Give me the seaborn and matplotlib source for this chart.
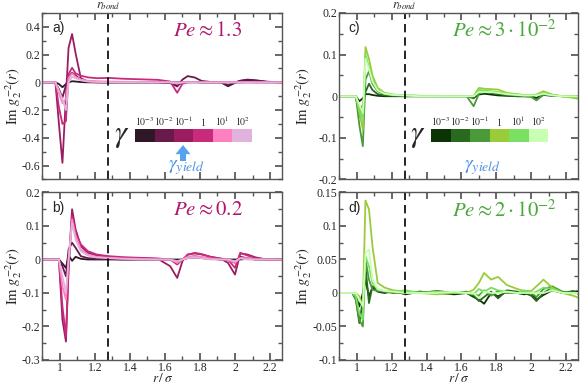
import numpy as np
import seaborn as sns
import matplotlib
matplotlib.use("Agg")
import matplotlib.pyplot as plt
from matplotlib.colors import ListedColormap
from matplotlib.ticker import MultipleLocator, AutoMinorLocator, FuncFormatter

# r / sigma sampling points (shared by all panels)
r = [0.90, 0.975, 0.995, 1.015, 1.035, 1.05, 1.07, 1.09, 1.12, 1.16, 1.21, 1.28, 1.36, 1.46, 1.56,
     1.63, 1.67, 1.70, 1.73, 1.77, 1.81, 1.86, 1.92, 1.96, 2.00, 2.03, 2.07, 2.12, 2.18, 2.24, 2.28]

gamma_labels = ["$10^{-3}$", "$10^{-2}$", "$10^{-1}$", "$1$", "$10^{1}$", "$10^{2}$"]
pink = ["#2e1828", "#6a1a4a", "#9c1c60", "#c82a7c", "#ff80c0", "#e0b2dc"]
green = ["#0c3306", "#2a6a1e", "#4a9a3a", "#9acc3a", "#7ae062", "#c8ffb2"]

# a) Pe ~ 1.3
a_g1 = [0, 0, -0.012, -0.035, -0.012, 0.0, 0.008, 0.006, 0.002, 0.0, 0.0, -0.002, 0.0, 0.0, 0.0,
        -0.005, -0.022, 0.0, 0.004, 0.002, 0.0, 0.0, 0.0, -0.028, -0.004, 0.01, 0.016, 0.012, 0.004, 0.0, 0.0]
a_g2 = [0, 0, -0.05, -0.11, -0.02, 0.04, 0.07, 0.05, 0.02, 0.008, 0.004, 0.002, 0.0, 0.0, 0.0,
        -0.002, -0.03, 0.02, 0.045, 0.035, 0.01, 0.003, 0.0, -0.02, 0.0, 0.012, 0.02, 0.015, 0.005, 0.002, 0.0]
a_g3 = [0, 0, -0.3, -0.58, -0.1, 0.25, 0.348, 0.21, 0.03, 0.005, 0.0, 0.0, 0.0, 0.0, 0.0,
        0.0, 0.0, 0.0, 0.0, 0.0, 0.0, 0.0, 0.0, 0.0, 0.0, 0.0, 0.0, 0.0, 0.0, 0.0, 0.0]
a_g4 = [0, 0, -0.18, -0.30, -0.28, 0.06, 0.105, 0.065, 0.048, 0.036, 0.03, 0.032, 0.026, 0.022, 0.018,
        0.006, -0.075, -0.01, 0.0, 0.002, 0.0, 0.0, 0.0, 0.0, 0.0, 0.0, 0.002, 0.0, 0.0, 0.0, 0.0]
a_g5 = [0, 0, -0.08, -0.15, -0.12, 0.03, 0.065, 0.04, 0.02, 0.012, 0.008, 0.006, 0.004, 0.003, 0.002,
        0.0, -0.01, 0.0, 0.002, 0.0, 0.0, 0.0, 0.0, 0.0, 0.0, 0.0, 0.0, 0.0, 0.0, 0.0, 0.0]
a_g6 = [0, 0, -0.06, -0.12, -0.2, 0.0, 0.04, 0.03, 0.015, 0.006, 0.003, 0.0, 0.0, 0.0, 0.0,
        0.0, -0.004, 0.0, 0.0, 0.0, 0.0, 0.0, 0.0, 0.0, 0.0, 0.0, 0.0, 0.0, 0.0, 0.0, 0.0]

# b) Pe ~ 0.2
b_g1 = [0, 0, 0, -0.012, -0.025, 0.012, -0.004, 0.008, 0.002, 0, 0, 0, 0, 0, 0,
        0, 0, 0, 0.004, 0.006, 0.004, 0.002, 0, 0, 0, 0, 0.002, 0, 0, 0, 0]
b_g2 = [0, 0, 0, -0.02, -0.05, 0.03, 0.05, 0.035, 0.01, 0.004, 0.002, 0.002, 0, 0, 0,
        0, -0.005, 0, 0.006, 0.01, 0.006, 0.003, 0, 0, -0.01, 0.008, 0.004, 0, 0, 0, 0]
b_g3 = [0, 0, 0, -0.18, -0.245, -0.02, 0.15, 0.09, 0.04, 0.02, 0.012, 0.008, 0.005, 0.004, 0.002,
        -0.02, -0.055, -0.005, 0.015, 0.018, 0.015, 0.008, 0.002, -0.01, -0.045, 0.018, 0.015, 0.006, 0.0, 0, 0]
b_g4 = [0, 0, 0, -0.14, -0.23, -0.03, 0.13, 0.08, 0.045, 0.025, 0.015, 0.01, 0.007, 0.005, 0.003,
        0.0, -0.015, 0.0, 0.014, 0.02, 0.016, 0.008, 0.003, 0.0, -0.025, 0.02, 0.012, 0.004, 0, 0, 0]
b_g5 = [0, 0, 0, -0.08, -0.12, 0.0, 0.12, 0.07, 0.03, 0.015, 0.008, 0.005, 0.003, 0.002, 0,
        0, -0.01, 0, 0.008, 0.01, 0.008, 0.003, 0, 0, -0.01, 0.005, 0.004, 0, 0, 0, 0]
b_g6 = [0, 0, 0, -0.05, -0.1, 0.0, 0.11, 0.06, 0.025, 0.012, 0.006, 0.004, 0.002, 0, 0,
        0, -0.005, 0, 0.004, 0.006, 0.004, 0, 0, 0, -0.005, 0.003, 0, 0, 0, 0, 0]

# c) Pe ~ 3e-2
c_g1 = [0, 0, 0, -0.012, -0.005, 0.005, 0.005, 0.003, 0.001, 0, 0, 0, 0, 0, 0,
        0, -0.003, 0.004, 0.006, 0.004, 0.002, 0.001, 0, 0, 0, -0.004, 0.003, 0.001, 0, 0, 0]
c_g2 = [0, 0, 0, -0.05, -0.02, 0.01, 0.03, 0.015, 0.005, 0.002, 0.001, 0, 0, 0, 0,
        0, -0.005, 0.008, 0.01, 0.008, 0.005, 0.002, 0, 0, 0, -0.008, 0.004, 0.002, 0, 0, 0]
c_g3 = [0, 0, 0, -0.07, -0.12, 0.04, 0.06, 0.03, 0.012, 0.005, 0.002, 0.001, 0, 0, 0,
        0, -0.024, 0.006, 0.01, 0.01, 0.008, 0.004, 0.002, 0, -0.002, -0.01, 0.004, 0.002, 0, 0, 0]
c_g4 = [0, 0, 0, -0.04, -0.08, 0.118, 0.09, 0.05, 0.02, 0.008, 0.004, 0.002, 0.001, 0.001, 0,
        0, 0.0, 0.02, 0.018, 0.017, 0.016, 0.008, 0.005, 0.003, 0.003, 0.004, 0.012, 0.004, 0.0, -0.004, -0.007]
c_g5 = [0, 0, 0, -0.03, -0.06, 0.1, 0.07, 0.04, 0.016, 0.006, 0.003, 0.002, 0.001, 0, 0,
        0, 0, 0.015, 0.014, 0.012, 0.01, 0.006, 0.004, 0.002, 0.002, 0.003, 0.008, 0.003, 0, 0, -0.002]
c_g6 = [0, 0, 0, -0.02, -0.04, 0.09, 0.065, 0.035, 0.014, 0.006, 0.003, 0.002, 0, 0, 0,
        0, 0, 0.01, 0.01, 0.01, 0.008, 0.005, 0.003, 0.002, 0.002, 0.002, 0.006, 0.002, 0, 0, 0]

# d) Pe ~ 2e-2
d_g1 = [0, 0, -0.005, -0.02, 0.0, 0.02, -0.005, 0.008, 0.002, 0.0, 0.003, -0.002, 0.002, 0.0, -0.002,
        0.0, -0.006, -0.01, -0.016, 0.0, -0.005, 0.002, 0.0, -0.002, 0.0, -0.01, -0.003, 0.004, 0.0, 0.002, 0.003]
d_g2 = [0, 0, -0.01, -0.045, -0.01, 0.04, -0.015, 0.01, 0.004, 0.002, 0.0, 0.002, 0.0, 0.003, 0.0,
        0.0, -0.004, -0.012, -0.006, 0.002, -0.008, 0.004, 0.002, 0.0, -0.004, -0.012, 0.0, 0.008, 0.0, 0.003, -0.003]
d_g3 = [0, 0, -0.01, -0.04, -0.05, 0.05, 0.02, 0.005, 0.003, 0.002, 0.001, 0.0, 0.002, 0.0, 0.0,
        0.002, -0.002, -0.004, 0.004, -0.004, 0.003, 0.0, 0.0, 0.002, 0.0, -0.006, 0.006, 0.01, 0.002, 0, 0]
d_g4 = [0, 0, 0, -0.005, -0.02, 0.138, 0.125, 0.07, 0.015, 0.008, 0.004, 0.002, 0.0, -0.002, 0.0,
        0.0, 0.005, 0.015, 0.03, 0.02, 0.024, 0.012, 0.006, 0.003, 0.003, 0.01, 0.02, 0.008, 0.0, -0.004, -0.008]
d_g5 = [0, 0, -0.005, -0.03, -0.04, 0.055, 0.04, 0.015, 0.005, 0.003, 0.002, 0.004, 0.0, 0.002, 0.0,
        0.0, -0.002, 0.006, 0.002, 0.008, 0.004, 0.002, 0.0, 0.004, 0.0, 0.002, 0.008, 0.006, 0, 0, 0]
d_g6 = [0, 0, 0, -0.01, -0.02, 0.06, 0.065, 0.02, 0.006, 0.003, 0.002, 0.0, 0.0, 0.0, 0.002,
        0.0, 0.0, -0.008, 0.002, 0.0, 0.0, 0.002, 0.0, 0.0, 0.0, 0.0, 0.0, 0.004, 0.0, 0, 0]

r_bond = 1.275

sns.set_theme(style="ticks")
plt.rcParams["font.family"] = ["Liberation Serif", "DejaVu Serif"]
plt.rcParams["mathtext.fontset"] = "stix"
plt.rcParams["axes.unicode_minus"] = False

fig = plt.figure(figsize=(5.81, 3.84), dpi=100)
ax_a = fig.add_axes([0.0728, 0.5326, 0.4131, 0.4336])
ax_b = fig.add_axes([0.0728, 0.0625, 0.4131, 0.4362])
ax_c = fig.add_axes([0.584, 0.5326, 0.4114, 0.4336])
ax_d = fig.add_axes([0.584, 0.0625, 0.4114, 0.4362])

panels = [
    (ax_a, [a_g1, a_g2, a_g3, a_g4, a_g5, a_g6], pink, (-0.7, 0.5), 0.2, "a)", r"$Pe \approx 1.3$", "#b0186e"),
    (ax_b, [b_g1, b_g2, b_g3, b_g4, b_g5, b_g6], pink, (-0.3, 0.2), 0.1, "b)", r"$Pe \approx 0.2$", "#b0186e"),
    (ax_c, [c_g1, c_g2, c_g3, c_g4, c_g5, c_g6], green, (-0.2, 0.2), 0.1, "c)", r"$Pe \approx 3\cdot10^{-2}$", "#4aa83c"),
    (ax_d, [d_g1, d_g2, d_g3, d_g4, d_g5, d_g6], green, (-0.1, 0.15), 0.05, "d)", r"$Pe \approx 2\cdot10^{-2}$", "#4aa83c"),
]

fmt = FuncFormatter(lambda v, p: "%g" % round(v, 4))
for ax, series, cols, ylim, ystep, tag, pe, pecol in panels:
    for vals, c in zip(series, cols):
        sns.lineplot(x=r, y=vals, color=c, lw=1.3, ax=ax)
    ax.axvline(r_bond, color="black", lw=1.2, ls=(0, (5, 3)))
    ax.set_xlim(0.9, 2.27)
    ax.set_ylim(*ylim)
    ax.xaxis.set_major_locator(MultipleLocator(0.2))
    ax.xaxis.set_minor_locator(MultipleLocator(0.1))
    ax.yaxis.set_major_locator(MultipleLocator(ystep))
    ax.yaxis.set_minor_locator(AutoMinorLocator(2))
    ax.xaxis.set_major_formatter(fmt)
    ax.yaxis.set_major_formatter(fmt)
    ax.tick_params(which="both", direction="in", top=True, right=True, color="#555555",
                   labelsize=8.5)
    ax.tick_params(axis="x", pad=1.5)
    ax.tick_params(axis="y", pad=1.5)
    ax.tick_params(which="major", length=5)
    ax.tick_params(which="minor", length=3)
    for s in ax.spines.values():
        s.set_color("#555555")
        s.set_linewidth(1.0)
    ax.set_ylabel(r"$\mathrm{Im}\ g_2^{-2}(r)$", fontsize=10.5)
    ax.yaxis.label.set_va("baseline")
    ax.text(0.04, 0.91, tag, transform=ax.transAxes, fontsize=10,
            family=["Liberation Sans", "DejaVu Sans"], va="center")
    ax.text(0.69, 0.89, pe, transform=ax.transAxes, fontsize=15, color=pecol,
            ha="center", va="center")

for ax in (ax_a, ax_c):
    ax.set_xticklabels([])
    ax.set_xlabel("")
    ax.text(r_bond, 1.005, r"$r_{bond}$", transform=ax.get_xaxis_transform(),
            ha="center", va="bottom", fontsize=9)
for ax in (ax_b, ax_d):
    ax.set_xlabel(r"$r\,/\,\sigma$", fontsize=9.5)
    ax.xaxis.set_label_coords(0.5, -0.13)
    ax.xaxis.label.set_va("baseline")

ax_a.yaxis.set_label_coords(-0.103, 0.5)
ax_b.yaxis.set_label_coords(-0.103, 0.5)
ax_c.yaxis.set_label_coords(-0.133, 0.5)
ax_d.yaxis.set_label_coords(-0.133, 0.5)

# shear-rate colour keys
W, H = 581.0, 384.0
for x0, cols in ((135, pink), (431, green)):
    ins = fig.add_axes([x0 / W, (H - 142) / H, 117 / W, 13 / H])
    sns.heatmap(np.arange(6).reshape(1, 6), cmap=ListedColormap(cols), cbar=False, ax=ins,
                xticklabels=gamma_labels, yticklabels=False, linewidths=0)
    ins.xaxis.tick_top()
    ins.tick_params(length=0, labelsize=7, pad=1)
    for lab in ins.get_xticklabels():
        lab.set_rotation(0)
    fig.text((x0 - 13) / W, (H - 136) / H, r"$\gamma$", fontsize=22, ha="center", va="center")
    xa = x0 + 48
    ax_a.annotate("", xy=(xa / W, (H - 145) / H), xytext=(xa / W, (H - 161) / H),
                  xycoords="figure fraction", textcoords="figure fraction",
                  arrowprops=dict(arrowstyle="simple,head_width=0.9,head_length=0.55,tail_width=0.36",
                                  color="#55a2f0", lw=0, shrinkA=0, shrinkB=0))
    fig.text((x0 + 33) / W, (H - 168) / H, r"$\gamma_{yield}$", fontsize=14, color="#4a8fe0",
             ha="left", va="center")

fig.savefig("out.png", dpi=100)
